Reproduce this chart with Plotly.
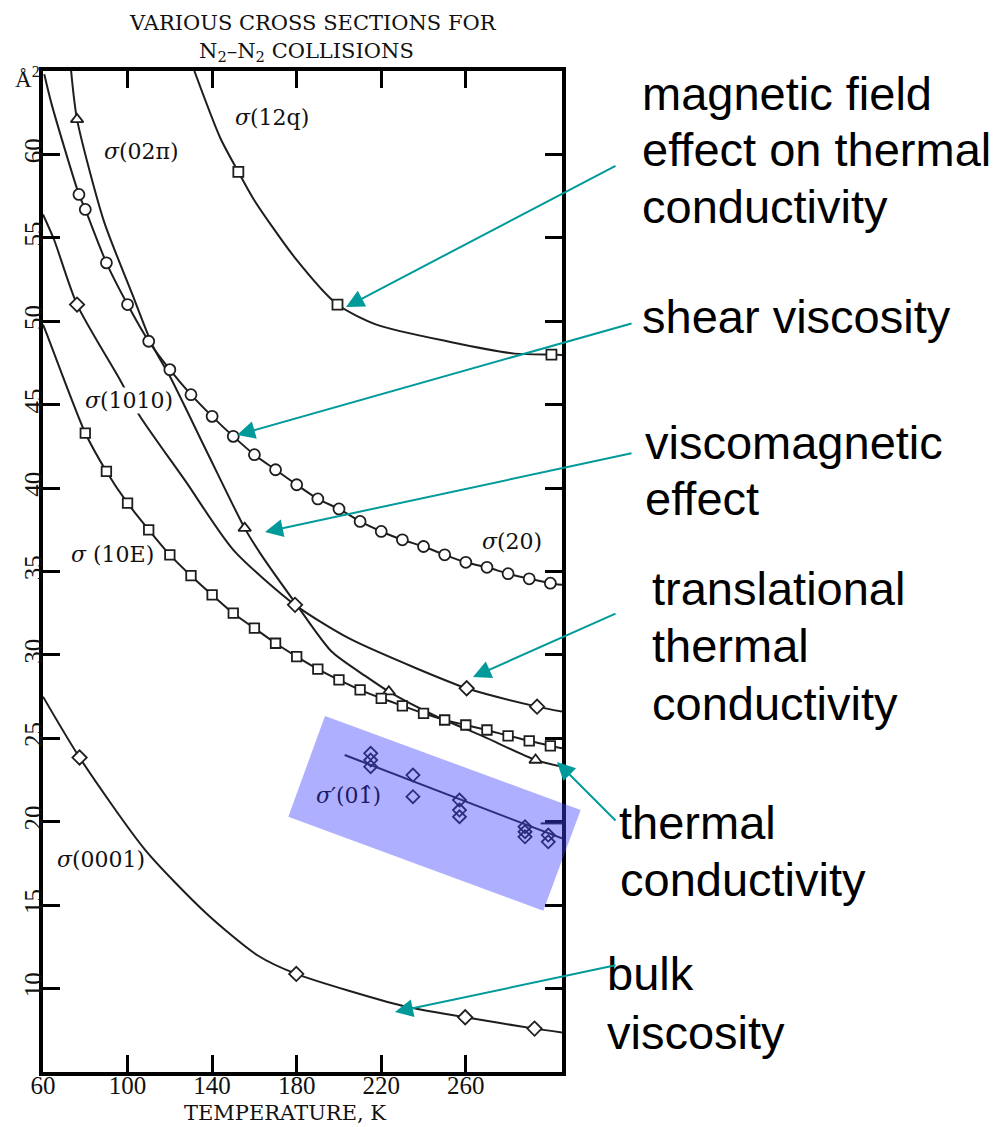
import plotly.graph_objects as go

# ---------------- data: temperature (K) vs cross section (Å^2) ----------------
# sigma(12q) - magnetic field effect on thermal conductivity
t_12q_curve = [131.6, 143.8, 152.4, 159.7, 179.2, 199.3, 217.7, 252.7, 283.2, 300.5, 305.5]
s_12q_curve = [65.0, 61.0, 58.95, 57.3, 53.8, 51.0, 49.8, 48.76, 48.06, 48.0, 47.98]
t_12q_pts = [152.4, 199.3, 300.5]
s_12q_pts = [58.95, 51.0, 48.0]

# sigma(02pi) - viscomagnetic effect
t_02pi_curve = [73.3, 76.1, 88.8, 102.0, 112.0, 120.0, 138.2, 155.4, 162.7, 180.0,
                196.5, 212.9, 223.6, 244.7, 268.5, 293.0, 305.5]
s_02pi_curve = [65.0, 62.1, 56.0, 51.7, 48.5, 46.7, 42.0, 37.6, 36.1, 33.0,
                30.2, 28.7, 27.8, 26.4, 25.1, 23.7, 23.3]
t_02pi_pts = [76.1, 155.4, 223.6, 293.0]
s_02pi_pts = [62.1, 37.6, 27.8, 23.7]

# sigma(20) - shear viscosity
t_20_pts = [77, 80, 90, 100, 110, 120, 130, 140, 150, 160, 170, 180,
            190, 200, 210, 220, 230, 240, 250, 260, 270, 280, 290, 300]
s_20_pts = [57.6, 56.7, 53.5, 51.0, 48.8, 47.1, 45.6, 44.3, 43.1, 42.0, 41.1, 40.2,
            39.35, 38.75, 38.0, 37.4, 36.9, 36.5, 36.0, 35.55, 35.25, 34.87, 34.56, 34.3]
t_20_head = [60.6, 64.1]
s_20_head = [64.8, 63.0]
t_20_tail = [305.5]
s_20_tail = [34.2]

# sigma(1010) - translational thermal conductivity
t_1010_curve = [60.0, 65.2, 76.1, 96.4, 105.4, 127.5, 150.0, 179.2, 204.6, 236.5, 260.4, 293.7, 305.5]
s_1010_curve = [56.4, 54.9, 51.0, 46.5, 44.4, 40.4, 36.3, 33.0, 31.0, 29.2, 28.0, 26.9, 26.6]
t_1010_pts = [76.1, 179.2, 260.4, 293.7]
s_1010_pts = [51.0, 33.0, 28.0, 26.9]

# sigma(10E) - thermal conductivity
t_10e_pts = [80, 90, 100, 110, 120, 130, 140, 150, 160, 170, 180, 190,
             200, 210, 220, 230, 240, 250, 260, 270, 280, 290, 300]
s_10e_pts = [43.3, 41.0, 39.1, 37.5, 36.0, 34.75, 33.6, 32.5, 31.6, 30.7, 29.9, 29.15,
             28.5, 27.9, 27.4, 26.95, 26.5, 26.1, 25.8, 25.5, 25.15, 24.85, 24.55]
t_10e_head = [60.0, 61.3]
s_10e_head = [49.8, 49.4]
t_10e_tail = [305.5]
s_10e_tail = [24.4]

# sigma(0001) - bulk viscosity
t_0001_curve = [60.0, 77.3, 108.4, 137.3, 161.4, 179.8, 229.9, 259.7, 292.5, 305.5]
s_0001_curve = [27.5, 23.85, 18.3, 14.5, 12.0, 10.88, 8.97, 8.28, 7.6, 7.37]
t_0001_pts = [77.3, 179.8, 259.7, 292.5]
s_0001_pts = [23.85, 10.88, 8.28, 7.6]

# sigma'(01^) - measured points with fitted line
t_p_line = [202.7, 305.5]
s_p_line = [24.0, 19.0]
t_p_pts = [215, 215, 215, 235, 235, 257, 257, 257, 288, 288, 288, 299, 299]
s_p_pts = [24.1, 23.7, 23.3, 22.8, 21.5, 21.3, 20.7, 20.3, 19.7, 19.4, 19.1, 19.2, 18.8]
t_p_cap = [295.4, 305.5]
s_p_cap = [19.9, 19.9]

x_ticks = [60, 100, 140, 180, 220, 260]
y_ticks = [10, 15, 20, 25, 30, 35, 40, 45, 50, 55, 60]

# ---------------- styling ----------------
INK = "#1e1e1e"
TEAL = "#009a9a"
SERIF = "Liberation Serif, Times New Roman, serif"
SERIF2 = "DejaVu Serif, serif"
SANS = "Liberation Sans, Arial, sans-serif"

# plot area in pixels
L, TOP, W, H = 43, 71, 519, 1001


def px(x):
    return (x - L) / W


def py(y):
    return (TOP + H - y) / H


fig = go.Figure()


def curve(t, s, width=2.0, smooth=0.7):
    fig.add_trace(go.Scatter(x=t, y=s, mode="lines", hoverinfo="skip",
                             line=dict(color=INK, width=width, shape="spline", smoothing=smooth)))


def points(t, s, symbol, size):
    fig.add_trace(go.Scatter(x=t, y=s, mode="markers", hoverinfo="skip",
                             marker=dict(symbol=symbol, size=size, color="white",
                                         line=dict(color=INK, width=1.8))))


# curves first, markers drawn on top
curve(t_12q_curve, s_12q_curve)
curve(t_02pi_curve, s_02pi_curve)
curve(t_20_head + t_20_pts + t_20_tail, s_20_head + s_20_pts + s_20_tail)
curve(t_1010_curve, s_1010_curve)
curve(t_10e_head + t_10e_pts + t_10e_tail, s_10e_head + s_10e_pts + s_10e_tail)
curve(t_0001_curve, s_0001_curve)
curve(t_p_line, s_p_line, smooth=0)
fig.add_trace(go.Scatter(x=t_p_cap, y=s_p_cap, mode="lines", hoverinfo="skip",
                         line=dict(color=INK, width=2)))

points(t_12q_pts, s_12q_pts, "square", 10)
points(t_02pi_pts, s_02pi_pts, "triangle-up", 11)
points(t_20_pts, s_20_pts, "circle", 11)
points(t_1010_pts, s_1010_pts, "diamond", 11)
points(t_10e_pts, s_10e_pts, "square", 9.5)
points(t_0001_pts, s_0001_pts, "diamond", 11)
fig.add_trace(go.Scatter(x=t_p_pts, y=s_p_pts, mode="markers", hoverinfo="skip",
                         marker=dict(symbol="diamond-open", size=10, color=INK,
                                     line=dict(color=INK, width=1.8))))

axis_common = dict(
    showline=True, linewidth=3.5, linecolor="black", mirror="ticks",
    ticks="inside", ticklen=17, tickwidth=2.5, tickcolor="black",
    showgrid=False, zeroline=False,
    tickfont=dict(family=SERIF, size=25, color="#111"),
)

fig.update_xaxes(range=[60, 305.5], tickvals=x_ticks, ticktext=[str(v) for v in x_ticks],
                 ticklabelstandoff=-12, **axis_common)
fig.update_yaxes(range=[5, 65], tickvals=y_ticks, ticktext=[str(v) for v in y_ticks],
                 tickangle=-90, ticklabelstandoff=-13, **axis_common)

ann = []

# title and axis captions
ann.append(dict(text="VARIOUS CROSS SECTIONS FOR", x=px(313), y=py(23),
                font=dict(family=SERIF2, size=21, color="#111")))
ann.append(dict(text="N<sub>2</sub>\u2013N<sub>2</sub> COLLISIONS", x=px(306), y=py(52),
                font=dict(family=SERIF2, size=21, color="#111")))
ann.append(dict(text="TEMPERATURE, K", x=px(285), y=py(1113),
                font=dict(family=SERIF2, size=21, color="#111")))
ann.append(dict(text="Å<sup>2</sup>", x=px(27), y=py(77),
                font=dict(family=SERIF, size=23, color="#111")))
for a in ann:
    a.update(xref="paper", yref="paper", showarrow=False, xanchor="center", yanchor="middle")

# curve labels (data coordinates)
curve_labels = [
    ("<i>σ</i>(12q)", 168.5, 62.2, None),
    ("<i>σ</i>(02π)", 106.4, 60.2, None),
    ("<i>σ</i>(1010)", 100.5, 45.25, "white"),
    ("<i>σ</i> (10E)", 92.8, 36.0, None),
    ("<i>σ</i>(0001)", 87.6, 17.75, None),
    ("<i>σ</i>(20)", 281.7, 36.8, None),
]
for text, x, y, bg in curve_labels:
    d = dict(text=text, x=x, y=y, xref="x", yref="y", showarrow=False,
             font=dict(family=SERIF2, size=22, color="#111"), borderpad=0)
    if bg:
        d["bgcolor"] = bg
    ann.append(d)
ann.append(dict(text="<i>σ</i>\u2032(01\u0302)", x=204.6, y=21.6, xref="x", yref="y",
                showarrow=False, font=dict(family=SERIF2, size=22, color="#1c1c66")))

# explanatory text blocks on the right
text_lines = [
    ("magnetic field", 640, 93.7), ("effect on thermal", 640, 149.7), ("conductivity", 640, 206.7),
    ("shear viscosity", 640, 316.5),
    ("viscomagnetic", 643, 443.0), ("effect", 643, 498.5),
    ("translational", 650, 588.7), ("thermal", 650, 645.4), ("conductivity", 650, 703.7),
    ("thermal", 617, 822.0), ("conductivity", 618, 879.7),
    ("bulk", 605, 973.7), ("viscosity", 605, 1032.0),
]
for text, x, y in text_lines:
    ann.append(dict(text=text, x=px(x), y=py(y), xref="paper", yref="paper",
                    xanchor="left", yanchor="middle", showarrow=False,
                    font=dict(family=SANS, size=47, color="black")))

# arrows: head position and tail position in pixels
arrows = [
    ((346, 307), (617, 165)),
    ((237, 435), (633, 323)),
    ((265, 532), (633, 453)),
    ((473, 677), (617, 613)),
    ((557, 762), (617, 822)),
    ((395, 1012), (617, 965)),
]
for (hx, hy), (tx, ty) in arrows:
    ann.append(dict(text="", x=px(hx), y=py(hy), xref="paper", yref="paper",
                    showarrow=True, axref="pixel", ayref="pixel", ax=tx - hx, ay=ty - hy,
                    arrowhead=2, arrowsize=1.8, arrowwidth=2, arrowcolor=TEAL, standoff=0))

# translucent highlight band around the sigma' data
corners = [(325, 716), (580.7, 810), (543.3, 910.7), (288.3, 816.7)]
path = "M " + " L ".join(f"{px(x):.5f},{py(y):.5f}" for x, y in corners) + " Z"
fig.add_shape(type="path", path=path, xref="paper", yref="paper",
              fillcolor="rgba(64,64,255,0.42)", line=dict(width=0), layer="above")

fig.update_layout(
    width=1004, height=1127, autosize=False,
    margin=dict(l=L, r=1004 - L - W, t=TOP, b=1127 - TOP - H, pad=0),
    paper_bgcolor="white", plot_bgcolor="white",
    showlegend=False, annotations=ann,
    font=dict(family=SERIF, color="#111"),
)

fig.write_html("out.html")
